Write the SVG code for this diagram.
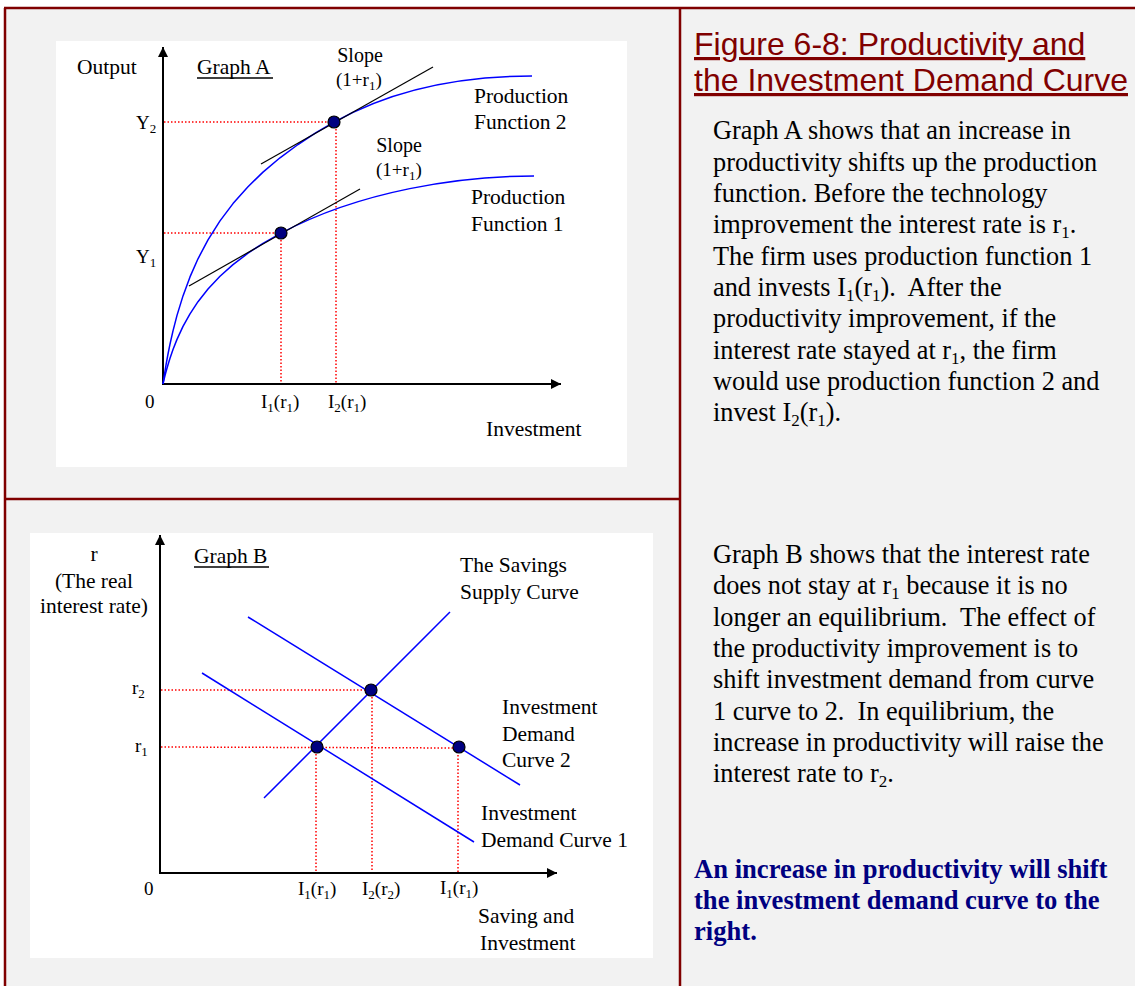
<svg xmlns="http://www.w3.org/2000/svg" width="1135" height="986" viewBox="0 0 1135 986">
<style>
.frame{fill:none;stroke:#800000;stroke-width:2.5}
.panel{fill:#ffffff}
.axis{stroke:#000;stroke-width:2;fill:none}
.curve{stroke:#0000ff;stroke-width:1.5;fill:none;stroke-linejoin:round}
.tan{stroke:#000;stroke-width:1.2;fill:none}
.dot{stroke:#ff0000;stroke-width:1.5;stroke-dasharray:1.5 2;fill:none}
.pt{fill:#000080;stroke:#000;stroke-width:1.2}
text{font-family:"Liberation Serif","Times New Roman",serif;fill:#000;white-space:pre}
.lbl{font-size:21.5px}
.sm{font-size:20px}
.sym{font-size:19px}
.sub{font-size:13px}
.body{font-size:26.3px}
.bsub{font-size:17px}
.bold{font-size:26.6px;font-weight:bold;fill:#000080}
.title{font-family:"Liberation Sans",Arial,sans-serif;font-size:32px;fill:#800000;text-decoration:underline}
.ul{stroke:#000;stroke-width:1.3}
</style>
<defs>
<marker id="ah" viewBox="0 0 10 10" refX="10" refY="5" markerWidth="10" markerHeight="10" markerUnits="userSpaceOnUse" orient="auto">
<path d="M0,0 L10,5 L0,10 Z" fill="#000"/>
</marker>
</defs>
<rect x="0" y="0" width="1135" height="986" fill="#ffffff"/>
<rect x="4" y="8" width="1140" height="990" fill="#f2f2f2"/>
<g id="frame">
<line class="frame" x1="4" y1="8" x2="1135" y2="8"/>
<line class="frame" x1="5" y1="8" x2="5" y2="986"/>
<line class="frame" x1="680" y1="8" x2="680" y2="986"/>
<line class="frame" x1="5" y1="499" x2="680" y2="499"/>
</g>
<g id="graphA">
<rect class="panel" x="56" y="41" width="571" height="426"/>
<g id="graphA-connectors">
<line class="axis" x1="163" y1="385" x2="163" y2="47" marker-end="url(#ah)"/>
<line class="axis" x1="162" y1="384" x2="561" y2="384" marker-end="url(#ah)"/>
<line class="dot" x1="164" y1="122" x2="334" y2="122"/>
<line class="dot" x1="164" y1="233" x2="281" y2="233"/>
<line class="dot" x1="281" y1="233" x2="281" y2="383"/>
<line class="dot" x1="336" y1="122" x2="336" y2="383"/>
<path class="curve" d="M163,384 L163.5,380.6 L164,377.3 L165,371 L166,365 L168,354 L170,344.2 L173,330.9 L177,315.4 L183,295.9 L190,276.9 L198,258.8 L208,239.8 L220,220.9 L233,203.6 L248,186.7 L263,172.1 L280,157.8 L298,144.5 L316,132.7 L334,122.1 C400,85.2 470,76 532,76"/>
<path class="curve" d="M163,384 L163.5,381.8 L164,379.7 L165,375.6 L166,371.8 L168,364.7 L170,358.2 L173,349.5 L177,339.4 L183,326.4 L190,313.8 L198,301.7 L208,289 L220,276.2 L233,264.6 L248,253.2 L263,243.3 L281,233.1 C361,190.6 460,176 534,176"/>
<line class="tan" x1="261" y1="164" x2="433" y2="67"/>
<line class="tan" x1="189" y1="286" x2="360" y2="189"/>
</g>
<g id="pointA2"><circle class="pt" cx="334" cy="122" r="6"/></g>
<g id="pointA1"><circle class="pt" cx="281" cy="233" r="6"/></g>
<g id="labelsA">
<text class="lbl" x="77" y="74">Output</text>
<text class="lbl" x="197" y="74">Graph A</text>
<line class="ul" x1="197" y1="78" x2="273" y2="78"/>
<text class="sm" x="360" y="62" text-anchor="middle">Slope</text>
<text class="sym" x="336" y="86">(1+r<tspan class="sub" dy="4">1</tspan><tspan dy="-4">)</tspan></text>
<text class="lbl" x="474" y="103">Production</text>
<text class="lbl" x="474" y="129">Function 2</text>
<text class="sm" x="399" y="152" text-anchor="middle">Slope</text>
<text class="sym" x="376" y="176">(1+r<tspan class="sub" dy="4">1</tspan><tspan dy="-4">)</tspan></text>
<text class="lbl" x="471" y="204">Production</text>
<text class="lbl" x="471" y="231">Function 1</text>
<text class="sym" x="136" y="129">Y<tspan class="sub" dy="4">2</tspan></text>
<text class="sym" x="136" y="263">Y<tspan class="sub" dy="4">1</tspan></text>
<text class="sym" x="145" y="408">0</text>
<text class="sym" x="261" y="408">I<tspan class="sub" dy="4">1</tspan><tspan dy="-4">(r</tspan><tspan class="sub" dy="4">1</tspan><tspan dy="-4">)</tspan></text>
<text class="sym" x="328" y="408">I<tspan class="sub" dy="4">2</tspan><tspan dy="-4">(r</tspan><tspan class="sub" dy="4">1</tspan><tspan dy="-4">)</tspan></text>
<text class="lbl" x="486" y="436">Investment</text>
</g>
</g>
<g id="graphB">
<rect class="panel" x="30" y="533" width="623" height="425"/>
<g id="graphB-connectors">
<line class="axis" x1="160" y1="874" x2="160" y2="535" marker-end="url(#ah)"/>
<line class="axis" x1="159" y1="873" x2="557" y2="873" marker-end="url(#ah)"/>
<line class="dot" x1="161" y1="690" x2="371" y2="690"/>
<line class="dot" x1="161" y1="747" x2="459" y2="748"/>
<line class="dot" x1="316" y1="747" x2="316" y2="872"/>
<line class="dot" x1="372" y1="690" x2="372" y2="872"/>
<line class="dot" x1="458" y1="748" x2="458" y2="872"/>
<line class="curve" x1="264" y1="798" x2="450" y2="612"/>
<line class="curve" x1="248" y1="617" x2="520" y2="785"/>
<line class="curve" x1="202" y1="673" x2="474" y2="842"/>
</g>
<g id="pointB2"><circle class="pt" cx="371" cy="690" r="6"/></g>
<g id="pointB1"><circle class="pt" cx="317" cy="747" r="6"/></g>
<g id="pointB3"><circle class="pt" cx="459" cy="747" r="6"/></g>
<g id="labelsB">
<text class="lbl" x="94" y="561" text-anchor="middle">r</text>
<text class="lbl" x="94" y="588" text-anchor="middle">(The real</text>
<text class="lbl" x="94" y="613" text-anchor="middle">interest rate)</text>
<text class="lbl" x="194" y="563">Graph B</text>
<line class="ul" x1="194" y1="567" x2="269" y2="567"/>
<text class="lbl" x="460" y="572">The Savings</text>
<text class="lbl" x="460" y="599">Supply Curve</text>
<text class="sym" x="132" y="694">r<tspan class="sub" dy="4">2</tspan></text>
<text class="sym" x="135" y="752">r<tspan class="sub" dy="4">1</tspan></text>
<text class="lbl" x="502" y="714">Investment</text>
<text class="lbl" x="502" y="741">Demand</text>
<text class="lbl" x="502" y="767">Curve 2</text>
<text class="lbl" x="481" y="820">Investment</text>
<text class="lbl" x="481" y="847">Demand Curve 1</text>
<text class="sym" x="144" y="895">0</text>
<text class="sym" x="298" y="895">I<tspan class="sub" dy="4">1</tspan><tspan dy="-4">(r</tspan><tspan class="sub" dy="4">1</tspan><tspan dy="-4">)</tspan></text>
<text class="sym" x="362" y="895">I<tspan class="sub" dy="4">2</tspan><tspan dy="-4">(r</tspan><tspan class="sub" dy="4">2</tspan><tspan dy="-4">)</tspan></text>
<text class="sym" x="440" y="894">I<tspan class="sub" dy="4">1</tspan><tspan dy="-4">(r</tspan><tspan class="sub" dy="4">1</tspan><tspan dy="-4">)</tspan></text>
<text class="lbl" x="478" y="923">Saving and</text>
<text class="lbl" x="480" y="950">Investment</text>
</g>
</g>
<g id="title">
<text class="title" x="694" y="55">Figure 6-8: Productivity and</text>
<text class="title" x="694" y="91">the Investment Demand Curve</text>
</g>
<g id="textA">
<text class="body" x="713" y="139">Graph A shows that an increase in</text>
<text class="body" x="713" y="170.5">productivity shifts up the production</text>
<text class="body" x="713" y="202">function. Before the technology</text>
<text class="body" x="713" y="233">improvement the interest rate is r<tspan class="bsub" dy="5">1</tspan><tspan dy="-5">.</tspan></text>
<text class="body" x="713" y="264.5">The firm uses production function 1</text>
<text class="body" x="713" y="296">and invests I<tspan class="bsub" dy="5">1</tspan><tspan dy="-5">(r</tspan><tspan class="bsub" dy="5">1</tspan><tspan dy="-5">).  After the</tspan></text>
<text class="body" x="713" y="327">productivity improvement, if the</text>
<text class="body" x="713" y="358.5">interest rate stayed at r<tspan class="bsub" dy="5">1</tspan><tspan dy="-5">, the firm</tspan></text>
<text class="body" x="713" y="390">would use production function 2 and</text>
<text class="body" x="713" y="421">invest I<tspan class="bsub" dy="5">2</tspan><tspan dy="-5">(r</tspan><tspan class="bsub" dy="5">1</tspan><tspan dy="-5">).</tspan></text>
</g>
<g id="textB">
<text class="body" x="713" y="563">Graph B shows that the interest rate</text>
<text class="body" x="713" y="594">does not stay at r<tspan class="bsub" dy="5">1</tspan><tspan dy="-5"> because it is no</tspan></text>
<text class="body" x="713" y="625.5">longer an equilibrium.  The effect of</text>
<text class="body" x="713" y="657">the productivity improvement is to</text>
<text class="body" x="713" y="688">shift investment demand from curve</text>
<text class="body" x="713" y="719.5">1 curve to 2.  In equilibrium, the</text>
<text class="body" x="713" y="751">increase in productivity will raise the</text>
<text class="body" x="713" y="782">interest rate to r<tspan class="bsub" dy="5">2</tspan><tspan dy="-5">.</tspan></text>
</g>
<g id="conclusion">
<text class="bold" x="694" y="878">An increase in productivity will shift</text>
<text class="bold" x="694" y="909">the investment demand curve to the</text>
<text class="bold" x="694" y="940">right.</text>
</g>
</svg>
